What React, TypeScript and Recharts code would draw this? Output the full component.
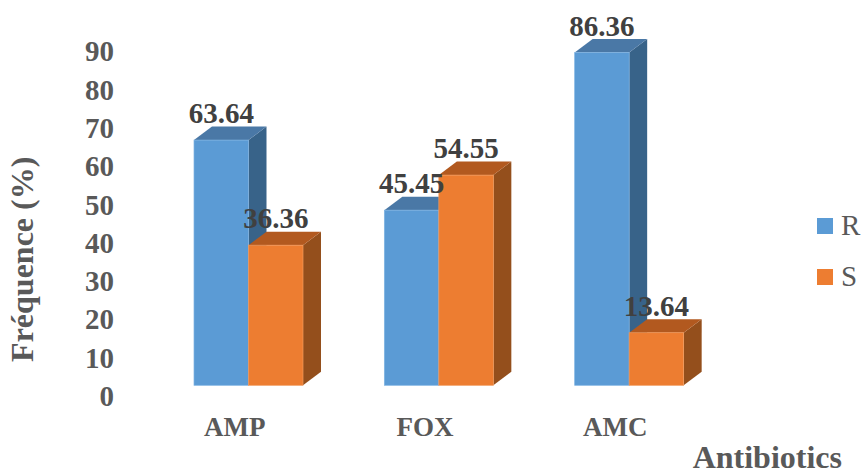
import React from 'react';
import { BarChart, Bar, XAxis, YAxis, LabelList, Legend } from 'recharts';

const categories = ['AMP', 'FOX', 'AMC'];
const seriesR = [63.64, 45.45, 86.36];
const seriesS = [36.36, 54.55, 13.64];
const yTicks = [0, 10, 20, 30, 40, 50, 60, 70, 80, 90];

const rows = categories.map((name, i) => ({ name, R: seriesR[i], S: seriesS[i] }));

const FONT = '"Liberation Serif", "Times New Roman", serif';
const DX = 18;
const DY = 13.5;

const palette: Record<string, { front: string; top: string; side: string; edge: string }> = {
  R: { front: '#5b9bd5', top: '#4a78a6', side: '#386389', edge: '#7fb3e2' },
  S: { front: '#ed7d31', top: '#b2591f', side: '#944f1c', edge: '#f29a5c' },
};

const box = (key: string) => (props: any) => {
  const { x, y, width, height } = props;
  const c = palette[key];
  return (
    <g>
      <polygon
        points={`${x + width},${y} ${x + width + DX},${y - DY} ${x + width + DX},${y + height - DY} ${x + width},${y + height}`}
        fill={c.side}
      />
      <polygon
        points={`${x},${y} ${x + DX},${y - DY} ${x + width + DX},${y - DY} ${x + width},${y}`}
        fill={c.top}
      />
      <rect x={x} y={y} width={width} height={height} fill={c.front} stroke={c.edge} strokeWidth={0.7} />
    </g>
  );
};

const valueLabel = (props: any) => {
  const { x, y, width, value } = props;
  return (
    <text
      x={x + width / 2}
      y={y - 17}
      textAnchor="middle"
      fontFamily={FONT}
      fontWeight="bold"
      fontSize={29}
      fill="#404040"
    >
      {Number(value).toFixed(2)}
    </text>
  );
};

const YTick = (props: any) => {
  const { y, payload } = props;
  return (
    <text
      x={114}
      y={y + 10.7 + payload.value * 0.025}
      dominantBaseline="central"
      textAnchor="end"
      fontFamily={FONT}
      fontWeight="bold"
      fontSize={29}
      fill="#595959"
    >
      {payload.value}
    </text>
  );
};

const XTick = (props: any) => {
  const { x, payload } = props;
  return (
    <text
      x={x - 13.5}
      y={427}
      dominantBaseline="central"
      textAnchor="middle"
      fontFamily={FONT}
      fontWeight="bold"
      fontSize={27}
      fill="#595959"
    >
      {payload.value}
    </text>
  );
};

const LegendBox = () => (
  <div style={{ fontFamily: FONT, fontSize: 29, color: '#595959' }}>
    {[
      { key: 'R', color: palette.R.front },
      { key: 'S', color: palette.S.front },
    ].map((it) => (
      <div key={it.key} style={{ display: 'flex', alignItems: 'center', height: 51 }}>
        <span style={{ width: 16, height: 16, background: it.color, display: 'inline-block', marginRight: 8 }} />
        <span>{it.key}</span>
      </div>
    ))}
  </div>
);

export default function App() {
  return (
    <div style={{ position: 'absolute', left: 0, top: 0, width: 863, height: 474, background: '#fff' }}>
      <BarChart
        width={863}
        height={474}
        data={rows}
        margin={{ top: 38.5, right: 139, bottom: 0, left: 0 }}
        barCategoryGap={81}
        barGap={0}
      >
        <XAxis
          dataKey="name"
          height={88.7}
          axisLine={false}
          tickLine={false}
          tick={<XTick />}
          label={{
            value: 'Antibiotics',
            position: 'insideBottomRight',
            dx: 123,
            dy: -1,
            fontFamily: FONT,
            fontWeight: 'bold',
            fontSize: 32,
            fill: '#595959',
          }}
        />
        <YAxis
          width={153}
          domain={[0, 90]}
          ticks={yTicks}
          interval={0}
          axisLine={false}
          tickLine={false}
          tick={<YTick />}
          label={{
            value: 'Fréquence (%)',
            angle: -90,
            position: 'insideLeft',
            dx: 16.5,
            dy: 150,
            fontFamily: FONT,
            fontWeight: 'bold',
            fontSize: 32,
            fill: '#595959',
          }}
        />
        <Legend
          content={<LegendBox />}
          wrapperStyle={{ position: 'absolute', left: 817, top: 200, width: 46, height: 0, bottom: 'auto' }}
        />
        <Bar dataKey="R" barSize={54.5} shape={box('R')} isAnimationActive={false}>
          <LabelList dataKey="R" content={valueLabel} />
        </Bar>
        <Bar dataKey="S" barSize={54.5} shape={box('S')} isAnimationActive={false}>
          <LabelList dataKey="S" content={valueLabel} />
        </Bar>
      </BarChart>
    </div>
  );
}
